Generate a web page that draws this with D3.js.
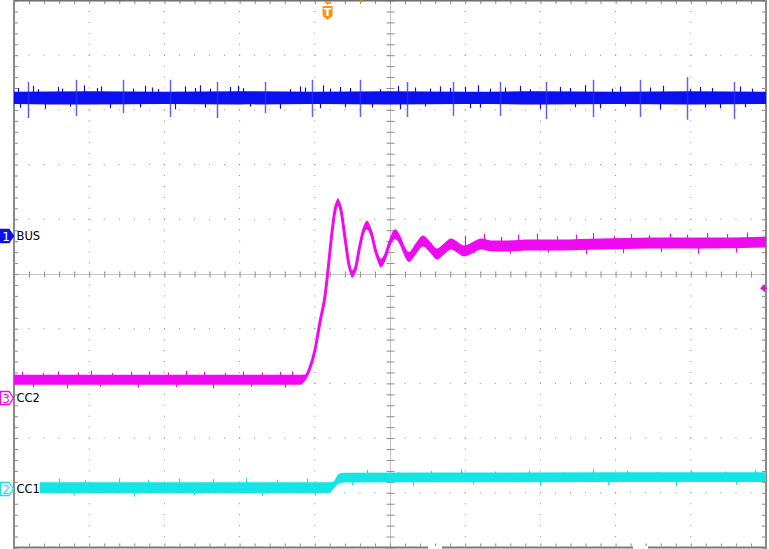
<!DOCTYPE html>
<html><head><meta charset="utf-8">
<script src="https://cdn.jsdelivr.net/npm/d3@7"></script>
<style>html,body{margin:0;padding:0;background:#fff;} svg{display:block;}</style>
</head><body><svg id="c" width="769" height="549"></svg>
<script>
// ---------- DATA (time and level in screen divisions) ----------
const xTicks = [-5,-4,-3,-2,-1,0,1,2,3,4,5];
const yTicks = [-5,-4,-3,-2,-1,0,1,2,3,4,5];
const channelNames   = ["BUS","CC2","CC1"];
const channelNumbers = ["1","3","2"];
const channelMarkerLevel = [0.69,-2.27,-3.93];
const triggerTime = -0.83;
const triggerLevel = -0.26;

// Channel 1 (BUS) noise band
const busBandT  = [-5,-4,-3,-2,-1,0,1,2,3,4,5];
const busBandHi = [3.33,3.34,3.33,3.34,3.33,3.34,3.33,3.34,3.33,3.34,3.33];
const busBandLo = [3.11,3.10,3.11,3.10,3.11,3.10,3.11,3.10,3.11,3.10,3.11];
// BUS periodic spikes
const busSpikeT  = [-4.82,-4.18,-3.55,-2.93,-2.30,-1.66,-1.04,-0.40,0.23,0.84,1.46,2.07,2.70,3.32,3.95,4.57];
const busSpikeHi = [3.51,3.55,3.55,3.55,3.51,3.51,3.55,3.55,3.51,3.51,3.51,3.51,3.55,3.55,3.60,3.51];
const busSpikeLo = [2.85,2.89,2.94,2.87,2.85,2.94,2.87,2.87,2.87,2.89,2.89,2.83,2.87,2.87,2.82,2.83];
// BUS small glitches
const busGlitchT = [-4.95,-4.75,-4.68,-4.41,-4.36,-4.07,-3.90,-3.84,-3.42,-3.26,-3.16,-3.09,-2.73,-2.59,-2.53,-2.39,-2.13,-2.02,-1.95,-1.33,-1.20,-1.13,-0.89,-0.80,-0.66,-0.53,-0.13,0.11,0.33,0.53,0.66,0.80,1.00,1.17,1.33,1.53,1.73,1.86,2.26,2.39,2.59,2.95,3.06,3.46,3.63,3.99,4.12,4.28,4.65,4.81,
                    -4.92,-4.59,-4.26,-3.72,-3.32,-2.86,-2.46,-1.86,-1.46,-0.93,-0.60,-0.24,0.13,0.47,1.06,1.20,1.99,2.46,2.79,3.13,3.59,4.19,4.39,4.72];
const busGlitchV = [3.40,3.44,3.38,3.42,3.39,3.45,3.40,3.43,3.39,3.44,3.41,3.38,3.43,3.40,3.45,3.39,3.42,3.44,3.40,3.38,3.43,3.41,3.45,3.39,3.42,3.40,3.38,3.44,3.41,3.39,3.43,3.40,3.42,3.45,3.39,3.41,3.44,3.38,3.42,3.40,3.45,3.39,3.43,3.41,3.44,3.38,3.42,3.40,3.43,3.39,
                    3.04,3.02,3.06,3.03,3.05,3.01,3.04,3.06,3.02,3.03,3.05,3.04,3.01,3.06,3.03,3.04,3.02,3.05,3.03,3.06,3.01,3.04,3.03,3.05];

// Channel 3 (CC2) trace: centre level and half-width of the noise band
const cc2T = [-5,-1.197,-1.130,-1.064,-0.997,-0.931,-0.864,-0.824,-0.771,-0.731,-0.691,-0.652,-0.598,-0.545,-0.505,-0.465,-0.399,-0.346,-0.306,-0.253,-0.186,-0.120,-0.066,0.000,0.066,0.133,0.199,0.253,0.332,0.439,0.532,0.625,0.718,0.811,0.891,0.984,1.090,1.210,1.356,1.529,1.862,2.261,2.793,3.457,4.122,5];
const cc2V = [-1.934,-1.934,-1.898,-1.715,-1.387,-0.876,-0.401,0.073,0.766,1.168,1.314,1.168,0.657,0.164,0.000,0.073,0.529,0.821,0.894,0.766,0.401,0.201,0.310,0.584,0.730,0.620,0.401,0.310,0.438,0.602,0.493,0.365,0.456,0.547,0.493,0.420,0.474,0.547,0.511,0.511,0.529,0.529,0.547,0.566,0.566,0.584];
const cc2W = [0.09,0.09,0.06,0.04,0.04,0.04,0.04,0.04,0.04,0.06,0.07,0.06,0.05,0.05,0.07,0.07,0.06,0.07,0.08,0.08,0.07,0.08,0.08,0.08,0.09,0.09,0.09,0.09,0.10,0.10,0.10,0.10,0.10,0.10,0.10,0.10,0.10,0.10,0.10,0.10,0.10,0.10,0.10,0.10,0.10,0.10];
const cc2GlitchT = [-4.90,-4.62,-4.41,-4.15,-3.98,-3.70,-3.44,-3.20,-2.95,-2.71,-2.48,-2.20,-1.95,-1.70,-1.46,-1.30,
                    -4.75,-4.30,-3.85,-3.35,-2.85,-2.35,-1.85,-1.40,
                    1.00,1.25,1.48,1.70,1.95,2.22,2.48,2.70,2.98,3.20,3.45,3.72,3.95,4.22,4.48,4.75,
                    1.12,1.60,2.10,2.60,3.10,3.60,4.10,4.60];
const cc2GlitchV = [-1.79,-1.81,-1.78,-1.80,-1.77,-1.81,-1.79,-1.78,-1.80,-1.77,-1.79,-1.81,-1.78,-1.80,-1.79,-1.78,
                    -2.07,-2.09,-2.06,-2.08,-2.07,-2.09,-2.06,-2.08,
                    0.70,0.73,0.68,0.72,0.74,0.69,0.72,0.75,0.70,0.73,0.71,0.74,0.72,0.75,0.73,0.76,
                    0.38,0.37,0.39,0.36,0.38,0.40,0.37,0.39];

// Channel 2 (CC1) trace
const cc1T = [-4.66,-0.811,-0.758,-0.678,-0.598,1.5,5];
const cc1V = [-3.905,-3.905,-3.869,-3.741,-3.723,-3.718,-3.714];
const cc1W = [0.10,0.10,0.07,0.09,0.09,0.09,0.09];
const cc1GlitchT = [-4.40,-4.05,-3.60,-3.22,-2.80,-2.35,-1.92,-1.50,-1.10,
                    -4.20,-3.40,-2.60,-1.70,-1.00,
                    -0.30,0.10,0.55,0.95,1.40,1.85,2.30,2.70,3.15,3.55,4.00,4.45,4.85,
                    -0.50,0.30,1.10,2.00,2.90,3.80,4.60];
const cc1GlitchV = [-3.74,-3.77,-3.73,-3.76,-3.74,-3.75,-3.73,-3.76,-3.74,
                    -4.05,-4.07,-4.04,-4.06,-4.05,
                    -3.58,-3.62,-3.60,-3.57,-3.61,-3.59,-3.63,-3.56,-3.60,-3.62,-3.59,-3.61,-3.58,
                    -3.86,-3.88,-3.85,-3.87,-3.86,-3.88,-3.85];

// ---------- DRAWING ----------
const svg = d3.select("#c");
const x = d3.scaleLinear().domain([-5,5]).range([14,766]);
const y = d3.scaleLinear().domain([-5,5]).range([547.5,0.5]);
const minor = d3.range(-25,26).map(i => i*0.2);
const gridColor = "#8c8c8c";

// dotted grid
const gGrid = svg.append("g");
xTicks.filter(t => Math.abs(t) !== 5 && t !== 0).forEach(t => {
  gGrid.selectAll(null).data(minor).enter().append("rect")
    .attr("x", x(t)-0.5).attr("y", d => y(d)-0.5).attr("width",1).attr("height",1).attr("fill",gridColor);
});
yTicks.filter(t => Math.abs(t) !== 5 && t !== 0).forEach(t => {
  gGrid.selectAll(null).data(minor).enter().append("rect")
    .attr("x", d => x(d)-0.5).attr("y", y(t)-0.5).attr("width",1).attr("height",1).attr("fill",gridColor);
});

// centre cross
svg.append("line").attr("x1",x(-5)).attr("x2",x(5)).attr("y1",Math.round(y(0))+0.5).attr("y2",Math.round(y(0))+0.5).attr("stroke","#c4c4c4");
svg.append("line").attr("y1",y(-5)).attr("y2",y(5)).attr("x1",Math.round(x(0))+0.5).attr("x2",Math.round(x(0))+0.5).attr("stroke","#c4c4c4");
function styleAxis(g){ g.select(".domain").remove(); g.selectAll(".tick line").attr("stroke","#8a8a8a"); g.selectAll("text").remove(); }
const cy = Math.round(y(0))+0.5, cx = Math.round(x(0))+0.5;
svg.append("g").attr("transform",`translate(0,${cy})`).call(d3.axisBottom(x).tickValues(minor).tickSize(3).tickFormat("")).call(styleAxis);
svg.append("g").attr("transform",`translate(0,${cy})`).call(d3.axisTop(x).tickValues(minor).tickSize(3).tickFormat("")).call(styleAxis);
svg.append("g").attr("transform",`translate(${cx},0)`).call(d3.axisLeft(y).tickValues(minor).tickSize(4).tickFormat("")).call(styleAxis);
svg.append("g").attr("transform",`translate(${cx},0)`).call(d3.axisRight(y).tickValues(minor).tickSize(4).tickFormat("")).call(styleAxis);

// border ticks
svg.append("g").attr("transform","translate(0,1)").call(d3.axisBottom(x).tickValues(minor).tickSize(3).tickFormat("")).call(styleAxis);
svg.append("g").attr("transform","translate(0,546.5)").call(d3.axisTop(x).tickValues(minor).tickSize(3).tickFormat("")).call(styleAxis);
svg.append("g").attr("transform","translate(15,0)").call(d3.axisRight(y).tickValues(minor).tickSize(3).tickFormat("")).call(styleAxis);
svg.append("g").attr("transform","translate(765,0)").call(d3.axisLeft(y).tickValues(minor).tickSize(3).tickFormat("")).call(styleAxis);

// border
svg.append("line").attr("x1",14).attr("x2",767).attr("y1",0.5).attr("y2",0.5).attr("stroke","#6e6e6e").attr("stroke-width",2);
svg.append("line").attr("x1",14).attr("x2",767).attr("y1",547.5).attr("y2",547.5).attr("stroke","#7a7a7a").attr("stroke-width",2);
svg.append("line").attr("x1",14).attr("x2",14).attr("y1",0).attr("y2",549).attr("stroke","#8a8a8a").attr("stroke-width",2);
svg.append("line").attr("x1",766).attr("x2",766).attr("y1",0).attr("y2",549).attr("stroke","#8a8a8a").attr("stroke-width",2);

// ---------- traces ----------
function drawBand(T, hi, lo, color){
  const pts = T.map((t,i)=>({t, hi:hi[i], lo:lo[i]}));
  svg.append("path").datum(pts)
    .attr("d", d3.area().x(d=>x(d.t)).y0(d=>y(d.lo)).y1(d=>y(d.hi)).curve(d3.curveMonotoneX))
    .attr("fill", color);
}
function drawTrace(T, V, W, color, sw){
  const pts = T.map((t,i)=>({t, v:V[i], w:W[i]}));
  svg.append("path").datum(pts)
    .attr("d", d3.area().x(d=>x(d.t)).y0(d=>y(d.v-d.w)).y1(d=>y(d.v+d.w)).curve(d3.curveMonotoneX))
    .attr("fill", color);
  svg.append("path").datum(pts)
    .attr("d", d3.line().x(d=>x(d.t)).y(d=>y(d.v)).curve(d3.curveMonotoneX))
    .attr("fill","none").attr("stroke",color).attr("stroke-width",sw);
}
function drawGlitches(T, V, baseFn, color, width, op){
  svg.append("g").selectAll("line").data(T.map((t,i)=>({t,v:V[i]}))).enter().append("line")
    .attr("x1", d=>Math.round(x(d.t))+0.5).attr("x2", d=>Math.round(x(d.t))+0.5)
    .attr("y1", d=>y(baseFn(d.t, d.v))).attr("y2", d=>y(d.v))
    .attr("stroke", color).attr("stroke-width", width).attr("opacity", op);
}
const interp = (T,V) => (t => { let i = d3.bisectRight(T,t)-1; i = Math.max(0,Math.min(T.length-2,i)); const f=(t-T[i])/(T[i+1]-T[i]); return V[i]+(V[i+1]-V[i])*f; });

// CC1 (cyan)
const cyan = "#14e4e4";
drawTrace(cc1T, cc1V, cc1W, cyan, 2.2);
const cc1Mid = interp(cc1T, cc1V);
drawGlitches(cc1GlitchT, cc1GlitchV, (t)=>cc1Mid(t), cyan, 1.2, 1);

// CC2 (magenta)
const magenta = "#f00af0";
drawTrace(cc2T, cc2V, cc2W, magenta, 3);
const cc2Mid = interp(cc2T, cc2V);
drawGlitches(cc2GlitchT, cc2GlitchV, (t)=>cc2Mid(t), magenta, 1.2, 1);

// BUS (blue)
const blue = "#0a10f0";
drawBand(busBandT, busBandHi, busBandLo, blue);
drawGlitches(busGlitchT, busGlitchV, ()=>3.22, blue, 1.2, 1);
svg.append("g").selectAll("line").data(busSpikeT.map((t,i)=>({t,hi:busSpikeHi[i],lo:busSpikeLo[i]}))).enter().append("line")
  .attr("x1", d=>Math.round(x(d.t))+0.5).attr("x2", d=>Math.round(x(d.t))+0.5)
  .attr("y1", d=>y(d.hi)).attr("y2", d=>y(d.lo))
  .attr("stroke", "#2a30f4").attr("stroke-width",1.5).attr("opacity",0.75);

// ---------- channel labels and markers ----------
const chColors = ["#0a10f0", magenta, cyan];
const chFilled = [true,false,false];
channelNames.forEach((name,i)=>{
  const cyy = Math.round(y(channelMarkerLevel[i]));
  const g = svg.append("g");
  g.append("path")
    .attr("d", `M0.5,${cyy-6.5} L9,${cyy-6.5} L13.5,${cyy} L9,${cyy+6.5} L0.5,${cyy+6.5} Z`)
    .attr("fill", chFilled[i] ? chColors[i] : "#fff")
    .attr("stroke", chColors[i]).attr("stroke-width",1.3);
  g.append("text").attr("x",6).attr("y",cyy+4.5).attr("text-anchor","middle")
    .attr("font-family","DejaVu Sans, sans-serif").attr("font-size",12)
    .attr("fill", chFilled[i] ? "#fff" : chColors[i]).text(channelNumbers[i]);
  g.append("rect").attr("x",15.5).attr("y",cyy-6).attr("width",24).attr("height",12).attr("fill","#fff").attr("opacity", i===2?1:0);
  g.append("text").attr("x",16.5).attr("y",cyy+4)
    .attr("font-family","DejaVu Sans, sans-serif").attr("font-size",11.5).attr("fill","#000").text(name);
});

// trigger position marker (top)
const tx = x(triggerTime);
const orange = "#f7941d";
svg.append("path").attr("d",`M${tx-4},1 L${tx+4},1 L${tx},5 Z`).attr("fill",orange);
svg.append("path").attr("d",`M${tx-5},6 L${tx+5},6 L${tx+5},16 L${tx},20 L${tx-5},16 Z`).attr("fill",orange);
svg.append("text").attr("x",tx).attr("y",16).attr("text-anchor","middle")
  .attr("font-family","DejaVu Sans, sans-serif").attr("font-weight","bold").attr("font-size",11).attr("fill","#fff").text("T");
svg.append("rect").attr("x",360).attr("y",0).attr("width",3).attr("height",2).attr("fill","#c08a20");

// trigger level marker (right)
const ty = y(triggerLevel);
svg.append("path").attr("d",`M760,${ty} L765,${ty-4} L765,${ty+4} Z`).attr("fill","#c020c0");
svg.append("line").attr("x1",763).attr("x2",767).attr("y1",ty).attr("y2",ty).attr("stroke","#c020c0").attr("stroke-width",1.5);

// bottom border gaps
svg.append("rect").attr("x",428).attr("y",546).attr("width",14).attr("height",3).attr("fill","#fff");
svg.append("rect").attr("x",633).attr("y",546).attr("width",15).attr("height",3).attr("fill","#fff");
</script></body></html>
